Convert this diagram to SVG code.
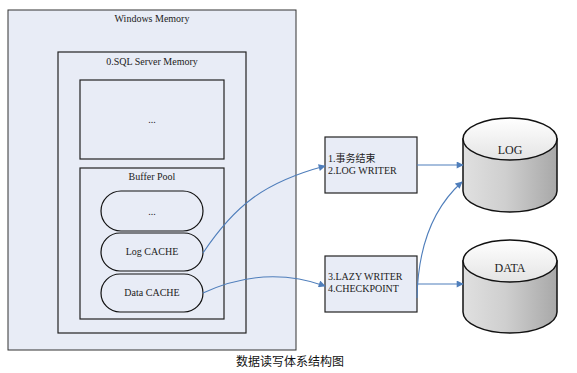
<svg xmlns="http://www.w3.org/2000/svg" width="577" height="373" viewBox="0 0 577 373">
<style>
.box{fill:#E8ECF6;stroke:#222;stroke-width:1.2}
.pill{fill:#E8ECF6;stroke:#111;stroke-width:1.2}
.t{font-family:"Liberation Serif","Noto Sans CJK SC",serif;font-size:10px;fill:#222}
.c{text-anchor:middle}
.con{fill:none;stroke:#4F7EBB;stroke-width:1.1}
.cyl{stroke:#111;stroke-width:1.5}
</style>
<defs>
<marker id="ah" viewBox="0 0 10 10" refX="9" refY="5" markerWidth="8" markerHeight="7" orient="auto" markerUnits="userSpaceOnUse">
<path d="M0,0 L10,5 L0,10 z" fill="#4F7EBB"/>
</marker>
<linearGradient id="body" x1="0" y1="0" x2="1" y2="0">
<stop offset="0" stop-color="#E0E0E0"/>
<stop offset="0.45" stop-color="#CFCFCF"/>
<stop offset="1" stop-color="#A8A8A8"/>
</linearGradient>
<linearGradient id="top" x1="0" y1="0" x2="0" y2="1">
<stop offset="0" stop-color="#FFFFFF"/>
<stop offset="1" stop-color="#E4E4E4"/>
</linearGradient>
</defs>
<rect width="577" height="373" fill="#fff"/>
<g id="windows-memory">
<rect class="box" x="8" y="10" width="288" height="340" style="stroke:#333;stroke-width:1"/>
<text class="t c" x="152" y="22">Windows Memory</text>
</g>
<g id="sql-server-memory">
<rect class="box" x="58" y="52" width="188" height="281"/>
<text class="t c" x="152" y="65">0.SQL Server Memory</text>
</g>
<g id="other-memory">
<rect class="box" x="80" y="80" width="144" height="79"/>
<text class="t c" x="152" y="123">...</text>
</g>
<g id="buffer-pool">
<rect class="box" x="80" y="168" width="144" height="151"/>
<text class="t c" x="152" y="180">Buffer Pool</text>
</g>
<g id="pool-other">
<rect class="pill" x="101" y="191" width="102" height="40" rx="20"/>
<text class="t c" x="152" y="215">...</text>
</g>
<g id="log-cache">
<rect class="pill" x="101" y="233" width="102" height="38" rx="19"/>
<text class="t c" x="152" y="255">Log CACHE</text>
</g>
<g id="data-cache">
<rect class="pill" x="101" y="274" width="102" height="38" rx="19"/>
<text class="t c" x="152" y="296">Data CACHE</text>
</g>
<g id="log-writer">
<rect class="box" x="325" y="137" width="92" height="56"/>
<text class="t" x="328" y="162">1.事务结束</text>
<text class="t" x="328" y="174">2.LOG WRITER</text>
</g>
<g id="lazy-writer">
<rect class="box" x="325" y="256" width="92" height="56"/>
<text class="t" x="328" y="280">3.LAZY WRITER</text>
<text class="t" x="328" y="292">4.CHECKPOINT</text>
</g>
<g id="log-db">
<path class="cyl" fill="url(#body)" d="M463,139 L463,191 A47,21 0 0 0 557,191 L557,139 Z"/>
<ellipse class="cyl" fill="url(#top)" cx="510" cy="139" rx="47" ry="21"/>
<text class="t c" x="510" y="154" style="font-size:12px">LOG</text>
</g>
<g id="data-db">
<path class="cyl" fill="url(#body)" d="M463,261 L463,312 A47,21 0 0 0 557,312 L557,261 Z"/>
<ellipse class="cyl" fill="url(#top)" cx="510" cy="261" rx="47" ry="21"/>
<text class="t c" x="510" y="272" style="font-size:12px">DATA</text>
</g>
<g id="connectors">
<path class="con" marker-end="url(#ah)" d="M203,253 C235,205 265,182 325,166"/>
<path class="con" marker-end="url(#ah)" d="M203,293 C240,276 280,270 325,286"/>
<path class="con" marker-end="url(#ah)" d="M417,165 L463,165"/>
<path class="con" marker-end="url(#ah)" d="M417,284 L463,284"/>
<path class="con" marker-end="url(#ah)" d="M417,298 C418,245 433,208 462,182"/>
</g>
<text x="290" y="366" text-anchor="middle" style="font-family:'Noto Sans CJK SC',sans-serif;font-size:12px;fill:#111">数据读写体系结构图</text>
</svg>
